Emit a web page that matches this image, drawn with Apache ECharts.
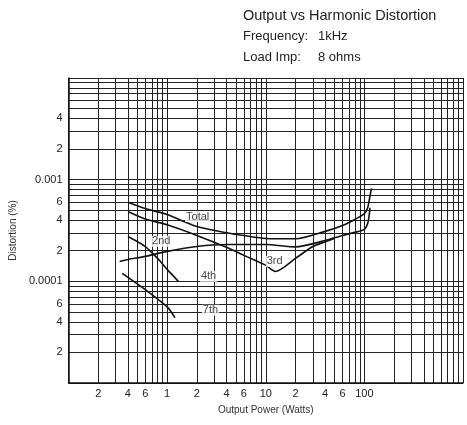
<!DOCTYPE html>
<html>
<head>
<meta charset="utf-8">
<script src="https://cdn.jsdelivr.net/npm/echarts@6/dist/echarts.min.js"></script>
<style>
  html, body { margin: 0; padding: 0; background: #fff; }
  #chart { width: 467px; height: 425px; }
</style>
</head>
<body>
<div id="chart"></div>
<script>
// harmonic distortion vs output power
const totalPower = [0.4, 0.6, 1, 2, 4, 6, 10, 20, 40, 60, 80, 100, 108, 113, 118];
const totalDist = [6.0e-4, 5.2e-4, 4.54e-4, 3.46e-4, 3.0e-4, 2.82e-4, 2.64e-4, 2.62e-4, 3.1e-4, 3.54e-4, 4.06e-4, 4.64e-4, 5.3e-4, 6.6e-4, 8.2e-4];

const secondPower = [0.33, 0.4, 0.6, 1, 2, 4, 10, 20, 40, 60, 80, 100, 108, 112, 114];
const secondDist = [1.57e-4, 1.64e-4, 1.76e-4, 1.97e-4, 2.2e-4, 2.3e-4, 2.3e-4, 2.18e-4, 2.52e-4, 2.83e-4, 3.03e-4, 3.24e-4, 3.7e-4, 4.5e-4, 5.3e-4];

const thirdPower = [0.4, 0.6, 1, 2, 4, 6, 10, 12.5, 20, 30, 40, 50];
const thirdDist = [4.86e-4, 4.1e-4, 3.6e-4, 2.83e-4, 2.16e-4, 1.8e-4, 1.44e-4, 1.25e-4, 1.68e-4, 2.2e-4, 2.45e-4, 2.65e-4];

const fourthPower = [0.4, 0.6, 0.8, 1, 1.3];
const fourthDist = [2.76e-4, 2.2e-4, 1.68e-4, 1.31e-4, 1.0e-4];

const seventhPower = [0.35, 0.6, 1, 1.2];
const seventhDist = [1.2e-4, 8.3e-5, 5.6e-5, 4.4e-5];

// curve names and where their labels sit
const curveNames = ['Total', '2nd', '3rd', '4th', '7th'];
const labelPower = [2.04, 0.87, 12.3, 2.63, 2.75];
const labelDist = [4.34e-4, 2.47e-4, 1.57e-4, 1.12e-4, 5.2e-5];

// tick labels
const xTickValues = [0.2, 0.4, 0.6, 1, 2, 4, 6, 10, 20, 40, 60, 100];
const xTickLabels = ['2', '4', '6', '1', '2', '4', '6', '10', '2', '4', '6', '100'];
const yTickValues = [4e-3, 2e-3, 1e-3, 6e-4, 4e-4, 2e-4, 1e-4, 6e-5, 4e-5, 2e-5];
const yTickLabels = ['4', '2', '0.001', '6', '4', '2', '0.0001', '6', '4', '2'];

// log grid lines 1..9 in every decade
function logGrid(from, decades) {
    let out = [];
    for (let d = 0; d < decades; d++) {
        for (let k = 1; k < 10; k++) {
            out.push(k * from * Math.pow(10, d));
        }
    }
    out.push(from * Math.pow(10, decades));
    return out;
}

function pickLabel(values, labels) {
    return function (v) {
        for (let i = 0; i < values.length; i++) {
            if (Math.abs(values[i] - v) / values[i] < 1e-6) return labels[i];
        }
        return '';
    };
}

function zip(a, b) {
    return a.map((v, i) => [v, b[i]]);
}

const curves = [
    zip(totalPower, totalDist),
    zip(secondPower, secondDist),
    zip(thirdPower, thirdDist),
    zip(fourthPower, fourthDist),
    zip(seventhPower, seventhDist)
];

let series = curves.map((pts, i) => ({
    name: curveNames[i],
    type: 'line',
    data: pts,
    smooth: 0.25,
    showSymbol: false,
    lineStyle: { color: '#111', width: 1.6 },
    silent: true,
    z: 5
}));

// curve labels
series.push({
    type: 'scatter',
    data: curveNames.map((n, i) => ({ value: [labelPower[i], labelDist[i]], name: n })),
    symbolSize: 0,
    silent: true,
    label: {
        show: true,
        position: 'inside',
        formatter: '{b}',
        color: '#111',
        fontSize: 11,
        fontFamily: 'Liberation Sans',
        backgroundColor: '#fff',
        padding: [0, 1]
    },
    z: 6
});

let myChart = echarts.init(document.getElementById('chart'), null, { renderer: 'canvas' });
myChart.setOption({
    animation: false,
    backgroundColor: '#fff',
    title: {
        left: 238,
        top: 0,
        text: '{h|Output vs Harmonic Distortion}\n{k|Frequency:}{v|1kHz}\n{k|Load Imp:}{v|8 ohms}',
        textStyle: {
            fontWeight: 'normal',
            rich: {
                h: { fontSize: 14.5, color: '#222', fontFamily: 'Liberation Sans', lineHeight: 21 },
                k: { fontSize: 13, color: '#222', fontFamily: 'Liberation Sans', lineHeight: 21, width: 75 },
                v: { fontSize: 13, color: '#222', fontFamily: 'Liberation Sans', lineHeight: 21 }
            }
        }
    },
    grid: {
        left: 66,
        right: 4,
        top: 78,
        bottom: 42
    },
    xAxis: {
        type: 'log',
        logBase: 10,
        min: 0.1,
        max: 1000,
        name: 'Output Power (Watts)',
        nameLocation: 'middle',
        nameGap: 22,
        nameTextStyle: { color: '#333', fontSize: 10, fontFamily: 'Liberation Sans' },
        axisLine: { show: true, lineStyle: { color: '#111', width: 1.5 } },
        axisTick: { show: false, customValues: logGrid(0.1, 4) },
        axisLabel: {
            customValues: xTickValues,
            formatter: pickLabel(xTickValues, xTickLabels),
            color: '#222',
            fontSize: 11,
            fontFamily: 'Liberation Sans',
            margin: 5
        },
        splitLine: { show: true, lineStyle: { color: '#222', width: 1 } }
    },
    yAxis: {
        type: 'log',
        logBase: 10,
        min: 1e-5,
        max: 1e-2,
        name: 'Distortion (%)',
        nameLocation: 'middle',
        nameGap: 46,
        nameRotate: 90,
        nameTextStyle: { color: '#333', fontSize: 10, fontFamily: 'Liberation Sans' },
        axisLine: { show: true, lineStyle: { color: '#111', width: 1.5 } },
        axisTick: { show: false, customValues: logGrid(1e-5, 3) },
        axisLabel: {
            customValues: yTickValues,
            formatter: pickLabel(yTickValues, yTickLabels),
            color: '#222',
            fontSize: 11,
            fontFamily: 'Liberation Sans',
            margin: 6
        },
        splitLine: { show: true, lineStyle: { color: '#222', width: 1 } }
    },
    series: series
});
</script>
</body>
</html>
